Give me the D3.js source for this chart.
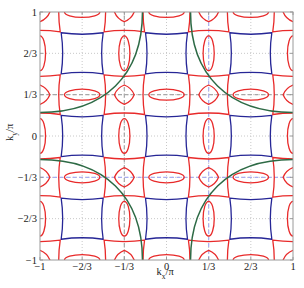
<!DOCTYPE html>
<html>
<head>
<meta charset="utf-8">
<script src="https://cdn.jsdelivr.net/npm/d3@7"></script>
<style>
body { margin: 0; background: #fff; }
svg { display: block; }
text { font-family: "Liberation Serif", "DejaVu Serif", serif; font-size: 10.5px; fill: #222; }
</style>
</head>
<body>
<svg></svg>
<script>
var width = 304;
var height = 288;
var margin = {top: 12, right: 11, bottom: 28, left: 40};

// ticks, in units of pi
var tickValues = [-1, -2/3, -1/3, 0, 1/3, 2/3, 1];
var xTickLabels = ['\u22121', '\u22122/3', '\u22121/3', '0', '1/3', '2/3', '1'];
var yTickLabels = ['\u22121', '\u22122/3', '\u22121/3', '0', '1/3', '2/3', '1'];

// centres of the folded cells
var evenK = [-2/3, 0, 2/3];
var oddK = [-1, -1/3, 1/3, 1];

// pocket sizes (units of pi)
var blueHalf = 0.166;
var redHalf = 0.16;
var sideSag = 0.012;
var ellLong = 0.14;
var ellShort = 0.044;
var diamondR = 0.078;

// big hole pockets round the zone corners
var holeCorners = [[-1, 1], [1, 1], [-1, -1], [1, -1]];
var holeRadius = 0.81;

var red = '#e82a2a', blue = '#262696', green = '#2d6a45';

var svg = d3.select('svg')
	.attr('width', width)
	.attr('height', height);

var x = d3.scaleLinear()
	.domain([-1, 1])
	.range([margin.left, width - margin.right]);

var y = d3.scaleLinear()
	.domain([-1, 1])
	.range([height - margin.bottom, margin.top]);

svg.append('clipPath').attr('id', 'plot')
	.append('rect')
	.attr('x', x(-1)).attr('y', y(1))
	.attr('width', x(1) - x(-1)).attr('height', y(-1) - y(1));

// dotted grid
var inner = tickValues.slice(1, -1);
var grid = svg.append('g');
grid.selectAll('.gx').data(inner).enter().append('line')
	.attr('x1', d => x(d)).attr('x2', d => x(d))
	.attr('y1', y(-1)).attr('y2', y(1));
grid.selectAll('.gy').data(inner).enter().append('line')
	.attr('y1', d => y(d)).attr('y2', d => y(d))
	.attr('x1', x(-1)).attr('x2', x(1));
grid.selectAll('line')
	.attr('stroke', '#c8c8c8')
	.attr('stroke-width', 1)
	.attr('stroke-dasharray', '1,2');

// dashed guide lines at +-1/3
var guides = [
	{dir: 'v', v: -1/3, c: '#a8a8a8'},
	{dir: 'h', v: 1/3, c: '#a8a8a8'},
	{dir: 'v', v: 1/3, c: '#a9aef0'},
	{dir: 'h', v: -1/3, c: '#a9aef0'}
];
svg.append('g').selectAll('line').data(guides).enter().append('line')
	.attr('x1', d => d.dir == 'v' ? x(d.v) : x(-1))
	.attr('x2', d => d.dir == 'v' ? x(d.v) : x(1))
	.attr('y1', d => d.dir == 'h' ? y(d.v) : y(-1))
	.attr('y2', d => d.dir == 'h' ? y(d.v) : y(1))
	.attr('stroke', d => d.c)
	.attr('stroke-width', 1.2)
	.attr('stroke-dasharray', '4,2.5');

var plot = svg.append('g').attr('clip-path', 'url(#plot)')
	.attr('fill', 'none')
	.attr('stroke-width', 1.3);

function cross(a, b) {
	var out = [];
	a.forEach(function(i) { b.forEach(function(j) { out.push([i, j]); }); });
	return out;
}

// square with sides bowed inwards
function concaveSquare(cx, cy, h, sag) {
	var p = d3.path();
	var c = [[cx - h, cy - h], [cx + h, cy - h], [cx + h, cy + h], [cx - h, cy + h]];
	p.moveTo(x(c[0][0]), y(c[0][1]));
	for (var i = 0; i < 4; i++) {
		var a = c[i], b = c[(i + 1) % 4];
		var mx = (a[0] + b[0]) / 2, my = (a[1] + b[1]) / 2;
		var qx = mx + 2 * sag * Math.sign(cx - mx);
		var qy = my + 2 * sag * Math.sign(cy - my);
		p.quadraticCurveTo(x(qx), y(qy), x(b[0]), y(b[1]));
	}
	p.closePath();
	return p.toString();
}

// rounded diamond
function diamond(cx, cy, r) {
	var p = d3.path(), k = 0.72;
	var v = [[r, 0], [0, r], [-r, 0], [0, -r]];
	p.moveTo(x(cx + r), y(cy));
	for (var i = 0; i < 4; i++) {
		var a = v[i], b = v[(i + 1) % 4];
		p.quadraticCurveTo(x(cx + k * (a[0] + b[0])), y(cy + k * (a[1] + b[1])), x(cx + b[0]), y(cy + b[1]));
	}
	p.closePath();
	return p.toString();
}

plot.selectAll('.blueSq').data(cross(evenK, evenK)).enter().append('path')
	.attr('d', d => concaveSquare(d[0], d[1], blueHalf, sideSag))
	.attr('stroke', blue);

plot.selectAll('.redSq').data(cross(oddK, oddK)).enter().append('path')
	.attr('d', d => concaveSquare(d[0], d[1], redHalf, sideSag))
	.attr('stroke', red);

plot.selectAll('.dia').data(cross(oddK, oddK)).enter().append('path')
	.attr('d', d => diamond(d[0], d[1], diamondR))
	.attr('stroke', red);

// horizontal ellipses: even kx, odd ky
plot.selectAll('.eh').data(cross(evenK, oddK)).enter().append('ellipse')
	.attr('cx', d => x(d[0])).attr('cy', d => y(d[1]))
	.attr('rx', x(ellLong) - x(0)).attr('ry', y(0) - y(ellShort))
	.attr('stroke', red);

// vertical ellipses: odd kx, even ky
plot.selectAll('.ev').data(cross(oddK, evenK)).enter().append('ellipse')
	.attr('cx', d => x(d[0])).attr('cy', d => y(d[1]))
	.attr('rx', x(ellShort) - x(0)).attr('ry', y(0) - y(ellLong))
	.attr('stroke', red);

// hole pockets, a little fuller than a circle
plot.selectAll('.hole').data(holeCorners).enter().append('path')
	.attr('d', function(d) {
		var a = holeRadius, k = 0.63;
		var sx = -Math.sign(d[0]), sy = -Math.sign(d[1]);
		var p = d3.path();
		p.moveTo(x(d[0]), y(d[1] + sy * a));
		p.bezierCurveTo(x(d[0] + sx * k * a), y(d[1] + sy * a),
			x(d[0] + sx * a), y(d[1] + sy * k * a),
			x(d[0] + sx * a), y(d[1]));
		return p.toString();
	})
	.attr('stroke', green)
	.attr('stroke-width', 1.5);

// frame and inner ticks
svg.append('rect')
	.attr('x', x(-1)).attr('y', y(1))
	.attr('width', x(1) - x(-1)).attr('height', y(-1) - y(1))
	.attr('fill', 'none').attr('stroke', '#9a9a9a');

var ticks = svg.append('g').attr('stroke', '#9a9a9a');
tickValues.forEach(function(v) {
	ticks.append('line').attr('x1', x(v)).attr('x2', x(v)).attr('y1', y(-1)).attr('y2', y(-1) - 3);
	ticks.append('line').attr('x1', x(v)).attr('x2', x(v)).attr('y1', y(1)).attr('y2', y(1) + 3);
	ticks.append('line').attr('y1', y(v)).attr('y2', y(v)).attr('x1', x(-1)).attr('x2', x(-1) + 3);
	ticks.append('line').attr('y1', y(v)).attr('y2', y(v)).attr('x1', x(1)).attr('x2', x(1) - 3);
});

svg.append('g').selectAll('text').data(tickValues).enter().append('text')
	.attr('x', d => x(d))
	.attr('y', 269.5)
	.attr('text-anchor', 'middle')
	.text((d, i) => xTickLabels[i]);

svg.append('g').selectAll('text').data(tickValues).enter().append('text')
	.attr('x', 37)
	.attr('y', d => y(d) + 3.5)
	.attr('text-anchor', 'end')
	.text((d, i) => yTickLabels[i]);

// axis titles
var xt = svg.append('text').attr('x', 156.5).attr('y', 275);
xt.append('tspan').text('k');
xt.append('tspan').attr('dy', 3.5).style('font-size', '7.5px').text('x');
xt.append('tspan').attr('dy', -3.5).text('/\u03c0');

var yt = svg.append('text').attr('transform', 'translate(13,141) rotate(-90)');
yt.append('tspan').text('k');
yt.append('tspan').attr('dy', 3.5).style('font-size', '7.5px').text('y');
yt.append('tspan').attr('dy', -3.5).text('/\u03c0');
</script>
</body>
</html>
